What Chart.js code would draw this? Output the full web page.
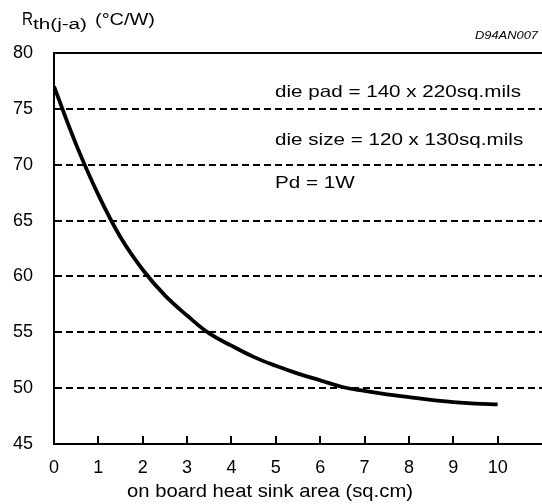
<!DOCTYPE html>
<html>
<head>
<meta charset="utf-8">
<script src="https://cdn.jsdelivr.net/npm/chart.js@4.4.0/dist/chart.umd.min.js"></script>
<style>
  html, body { margin: 0; padding: 0; background: #fff; }
</style>
</head>
<body>
<canvas id="chart" width="542" height="504"></canvas>
<script>
// on board heat sink area (sq.cm) vs Rth(j-a) (°C/W)
const area = [0, 0.5, 1, 1.5, 2, 2.5, 3, 3.5, 4, 4.5, 5, 5.5, 6, 6.5, 7, 7.5, 8, 8.5, 9, 9.5, 10];
const rth = [77.0, 71.8, 67.3, 63.5, 60.6, 58.3, 56.5, 54.9, 53.8, 52.8, 52.0, 51.3, 50.7, 50.1, 49.75, 49.45, 49.2, 48.95, 48.75, 48.62, 48.55];
const xTicks = [0, 1, 2, 3, 4, 5, 6, 7, 8, 9, 10];
const yTicks = [45, 50, 55, 60, 65, 70, 75, 80];
const notes = ['die pad = 140 x 220sq.mils', 'die size = 120 x 130sq.mils', 'Pd = 1W'];
const noteValues = [76.05, 71.75, 67.95];   // text baselines, in y units

const FONT = 'Liberation Sans, Arial, sans-serif';

// text in the scan is a bit wider than Arial, so squeeze/stretch to width
function fitText(ctx, text, x, y, size, width, style) {
    ctx.font = (style || '') + ' ' + size + 'px ' + FONT;
    const k = width / ctx.measureText(text).width;
    ctx.save();
    ctx.translate(x, y);
    ctx.scale(k, 1);
    ctx.fillText(text, 0, 0);
    ctx.restore();
}

const decor = {
    id: 'decor',
    afterDraw(chart) {
        const ctx = chart.ctx;
        const ca = chart.chartArea;
        const xs = chart.scales.x, ys = chart.scales.y;
        ctx.save();
        ctx.strokeStyle = '#000';
        ctx.lineWidth = 2;
        ctx.beginPath();
        ctx.moveTo(ca.left - 1, ca.top);
        ctx.lineTo(ca.right, ca.top);
        ctx.stroke();
        xTicks.slice(1).forEach(v => {
            const px = Math.round(xs.getPixelForValue(v));
            ctx.beginPath();
            ctx.moveTo(px, ca.bottom);
            ctx.lineTo(px, ca.bottom - 8);
            ctx.stroke();
        });
        ctx.fillStyle = '#000';
        ctx.textBaseline = 'alphabetic';
        ctx.textAlign = 'left';
        // y title
        fitText(ctx, 'R', 22, 25, 18, 11);
        fitText(ctx, 'th(j-a)', 33, 29, 14, 54);
        fitText(ctx, '(°C/W)', 95, 25, 16, 60);
        // drawing code
        fitText(ctx, 'D94AN007', 475, 39, 10.5, 63, 'italic');
        // notes
        notes.forEach((t, i) => {
            ctx.font = '16.5px ' + FONT;
            const w = ctx.measureText(t).width * 1.25;
            fitText(ctx, t, 275, ys.getPixelForValue(noteValues[i]), 16.5, w);
        });
        // x title
        fitText(ctx, 'on board heat sink area (sq.cm)', 127, 497, 19, 286);
        ctx.restore();
    }
};

new Chart(document.getElementById('chart'), {
    type: 'line',
    data: {
        datasets: [{
            data: area.map((x, i) => ({ x: x, y: rth[i] })),
            borderColor: '#000',
            borderWidth: 3.8,
            pointRadius: 0,
            tension: 0.4,
            fill: false
        }]
    },
    options: {
        responsive: false,
        animation: false,
        devicePixelRatio: 1,
        layout: { padding: { top: 53, right: 0, left: 0, bottom: 0 } },
        plugins: { legend: { display: false }, tooltip: { enabled: false } },
        scales: {
            x: {
                type: 'linear',
                min: 0,
                max: 11,
                afterBuildTicks: s => { s.ticks = xTicks.map(v => ({ value: v })); },
                afterFit: s => { s.height = 60; },
                grid: { display: false, drawTicks: false },
                border: { display: true, color: '#000', width: 2 },
                ticks: { color: '#000', font: { family: FONT, size: 18 }, padding: 13, maxRotation: 0 }
            },
            y: {
                min: 45,
                max: 80,
                afterBuildTicks: s => { s.ticks = yTicks.map(v => ({ value: v })); },
                afterFit: s => { s.width = 54; },
                grid: { color: '#000', lineWidth: 2, drawTicks: false },
                border: { display: true, color: '#000', width: 2, dash: [7, 4] },
                ticks: { color: '#000', font: { family: FONT, size: 18 }, padding: 21 }
            }
        }
    },
    plugins: [decor]
});
</script>
</body>
</html>
